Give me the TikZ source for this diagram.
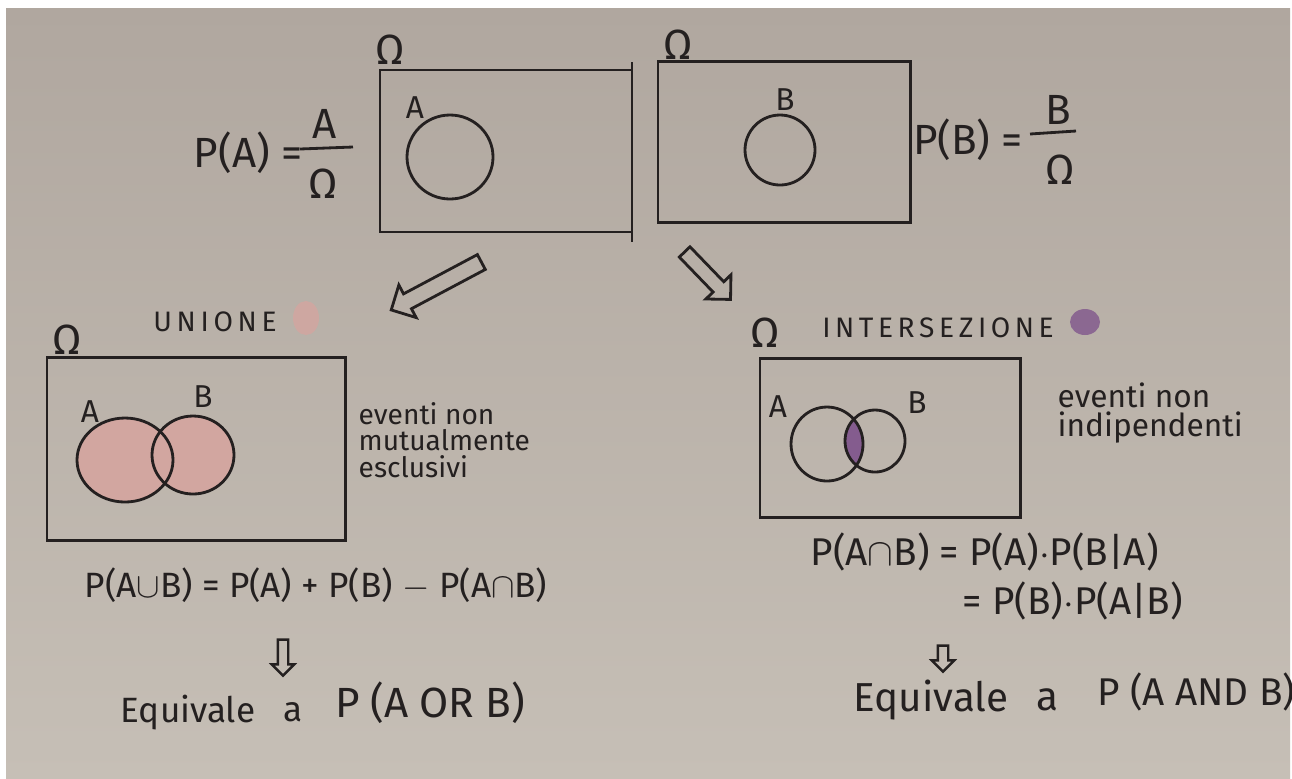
\documentclass[tikz,border=0pt]{standalone}
\usepackage{amsmath}
\usepackage{fontspec}
\setmainfont{Fira Sans}
\usetikzlibrary{shapes.arrows}

\definecolor{paper}{RGB}{198,191,182}
\definecolor{paperdark}{RGB}{176,167,159}
\definecolor{ink}{RGB}{36,32,32}
\definecolor{pinkfill}{RGB}{210,166,160}
\definecolor{violetfill}{RGB}{132,92,142}

\tikzset{
  pen/.style={draw=ink, line width=0.8pt},
  omegabox/.style={draw=ink, line width=0.8pt, inner sep=0pt},
  lbl/.style={text=ink, inner sep=0pt},
  hollowarrow/.style={single arrow, draw=ink, line width=0.8pt, inner sep=0.07cm,
    single arrow head extend=0.1cm, minimum height=#1},
  smallarrow/.style={single arrow, draw=ink, line width=0.7pt, inner sep=0.04cm,
    single arrow head extend=0.06cm, minimum height=#1, rotate=-90},
}

\begin{document}
\begin{tikzpicture}[x=0.01cm, y=-0.01cm]
  \useasboundingbox (0,0) rectangle (1292,778);
  \fill[white] (0,0) rectangle (1292,778);
  \shade[top color=paperdark, bottom color=paper] (6,8) rectangle (1290,778);

  % Top: the two sample spaces
  \node[omegabox, minimum width=2.52cm, minimum height=1.62cm] (boxA) at (506,151) {};
  \draw[pen] (632,62) -- (632,242);
  \node[lbl, font=\large] (omA) at (390,50) {Ω};
  \draw[pen] (450,157) ellipse (43 and 42);
  \node[lbl, font=\small] (lblA) at (415,108) {A};
  \node[lbl, font=\large] (probA) at (248,153) {P(A) =};
  \node[lbl, font=\large] (numA) at (325,124) {A};
  \node[lbl, font=\large] (denA) at (323,184) {Ω};
  \draw[pen] (300,149) -- (353,147);

  \node[omegabox, minimum width=2.52cm, minimum height=1.61cm] (boxB) at (784,142) {};
  \node[lbl, font=\large] (omB) at (678,45) {Ω};
  \draw[pen] (780,150) ellipse (35 and 35);
  \node[lbl, font=\small] (lblB) at (785,100) {B};
  \node[lbl, font=\large] (probB) at (968,140) {P(B) =};
  \node[lbl, font=\large] (numB) at (1058,110) {B};
  \node[lbl, font=\large] (denB) at (1060,170) {Ω};
  \draw[pen] (1030,134) -- (1076,131);

  % Arrows down to the two cases
  \node[hollowarrow=1.02cm, rotate=208] (arrU) at (440,284) {};
  \node[hollowarrow=0.66cm, rotate=-46, inner sep=0.06cm] (arrI) at (705,273) {};

  % Union
  \node[lbl, font=\large] (omU) at (67,340) {Ω};
  \node[lbl, font=\footnotesize] (titU) at (215,322) {U\,N\,I\,O\,N\,E};
  \fill[pinkfill, opacity=0.85] (306,318) ellipse (13 and 17);
  \node[omegabox, minimum width=2.98cm, minimum height=1.83cm] (boxU) at (196,449) {};
  \fill[pinkfill] (125,460) ellipse (48 and 42);
  \fill[pinkfill] (193,455) ellipse (41 and 39);
  \draw[pen] (125,460) ellipse (48 and 42);
  \draw[pen] (193,455) ellipse (41 and 39);
  \node[lbl, font=\small] (uA) at (90,412) {A};
  \node[lbl, font=\small] (uB) at (203,397) {B};
  \node[lbl, font=\footnotesize, align=left, anchor=west] (noteU) at (358,440)
    {eventi non\\[-2pt]mutualmente\\[-2pt]esclusivi};

  % Intersection
  \node[lbl, font=\large] (omI) at (765,333) {Ω};
  \node[lbl, font=\footnotesize] (titI) at (938,328) {I\kern1.3pt N\kern1.3pt T\kern1.3pt E\kern1.3pt R\kern1.3pt S\kern1.3pt E\kern1.3pt Z\kern1.3pt I\kern1.3pt O\kern1.3pt N\kern1.3pt E};
  \fill[violetfill, opacity=0.85] (1085,322) ellipse (15 and 13);
  \node[omegabox, minimum width=2.60cm, minimum height=1.59cm] (boxI) at (890,438) {};
  \begin{scope}
    \clip (827,444) ellipse (36 and 37);
    \fill[violetfill] (875,441) ellipse (30 and 31);
  \end{scope}
  \draw[pen] (827,444) ellipse (36 and 37);
  \draw[pen] (875,441) ellipse (30 and 31);
  \node[lbl, font=\small] (iA) at (778,407) {A};
  \node[lbl, font=\small] (iB) at (917,403) {B};
  \node[lbl, font=\small, align=left, anchor=west] (noteI) at (1057,413)
    {eventi non\\[-3pt]indipendenti};

  % Formulas
  \node[lbl] (eqU) at (316,585)
    {P(A$\cup$B) = P(A) + P(B) $-$ P(A$\cap$B)};
  \node[smallarrow=0.36cm] (dnU) at (283,655) {};
  \node[lbl] (eqvU) at (188,713) {Equivale};
  \node[lbl] (aU) at (293,712) {a};
  \node[lbl, font=\large] (orU) at (430,703) {P (A OR B)};

  \node[lbl, font=\fontsize{11}{12}\selectfont, anchor=west] (eqI) at (810,552)
    {P(A$\cap$B) = P(A)$\cdot$P(B|A)};
  \node[lbl, font=\fontsize{11}{12}\selectfont, anchor=west] (eqI2) at (962,601)
    {= P(B)$\cdot$P(A|B)};
  \node[smallarrow=0.26cm] (dnI) at (943,656) {};
  \node[lbl, font=\fontsize{11.5}{13}\selectfont] (eqvI) at (931,700) {Equivale};
  \node[lbl, font=\fontsize{11.5}{13}\selectfont] (aI) at (1047,700) {a};
  \node[lbl, font=\fontsize{11}{13}\selectfont, anchor=west] (andI) at (1097,692) {P (A AND B)};
\end{tikzpicture}
\end{document}
